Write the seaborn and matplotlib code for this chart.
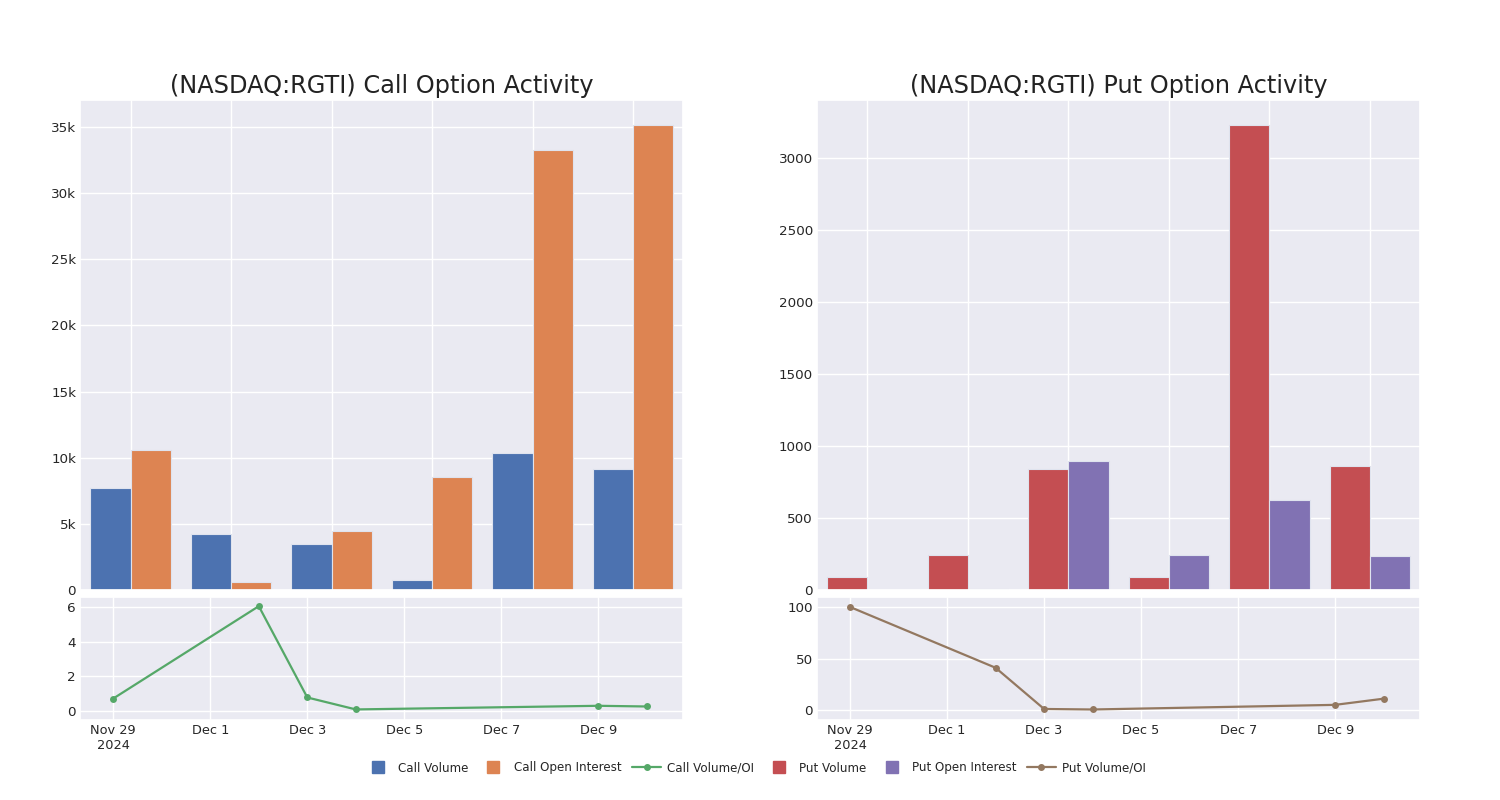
import pandas as pd
import matplotlib.pyplot as plt
import matplotlib.ticker as mticker
from matplotlib.lines import Line2D
import seaborn as sns

# Data
dates = ["2024-11-29", "2024-12-02", "2024-12-03", "2024-12-04", "2024-12-09", "2024-12-10"]
call_volume = [7710, 4230, 3480, 760, 10360, 9150]
call_oi = [10580, 600, 4460, 8540, 33260, 35150]
call_ratio = [0.72, 6.05, 0.78, 0.09, 0.30, 0.26]
put_volume = [90, 243, 840, 90, 3229, 861]
put_oi = [0, 6, 896, 243, 625, 236]
put_ratio = [100, 41, 1, 0.5, 5, 11]

tick_dates = ["2024-11-29", "2024-12-01", "2024-12-03", "2024-12-05", "2024-12-07", "2024-12-09"]
tick_labels = ["Nov 29\n2024", "Dec 1", "Dec 3", "Dec 5", "Dec 7", "Dec 9"]

sns.set_theme(style="darkgrid")
pal = sns.color_palette("deep")
plt.rcParams["font.family"] = ["DejaVu Sans"]

dt = pd.to_datetime(dates)
labels = [d.strftime("%b %d") for d in dt]

fig = plt.figure(figsize=(15, 8), dpi=100)


def k_fmt(v, pos):
    return "0" if v == 0 else f"{v / 1000:g}k"


def draw_panel(left, title, vol, oi, ratio, names, colors, line_color, ytop, ylim_line, yticks_line, kfmt):
    ax_bar = fig.add_axes([left, 0.2625, 0.402, 0.6125])
    ax_line = fig.add_axes([left, 0.1, 0.402, 0.15375])

    df = pd.DataFrame({
        "date": labels * 2,
        "value": vol + oi,
        "kind": [names[0]] * len(vol) + [names[1]] * len(oi),
    })
    sns.barplot(data=df, x="date", y="value", hue="kind", palette=colors, ax=ax_bar,
                width=0.8, saturation=1, edgecolor="#dfe3ee", linewidth=0.8, legend=False)
    ax_bar.set_ylim(0, ytop)
    ax_bar.set_xlabel("")
    ax_bar.set_ylabel("")
    ax_bar.set_xticklabels([])
    ax_bar.xaxis.grid(True)
    ax_bar.tick_params(axis="x", length=0)
    ax_bar.tick_params(axis="y", labelsize=9.7, length=0, pad=3)
    if kfmt:
        ax_bar.yaxis.set_major_locator(mticker.MultipleLocator(5000))
        ax_bar.yaxis.set_major_formatter(mticker.FuncFormatter(k_fmt))
    else:
        ax_bar.yaxis.set_major_locator(mticker.MultipleLocator(500))
    ax_bar.set_title(title, fontsize=17.3, color="#222222", pad=5)

    sns.lineplot(x=dt, y=ratio, ax=ax_line, color=line_color, marker="o",
                 markersize=5, markeredgewidth=0, linewidth=1.6)
    ax_line.set_xlim(pd.Timestamp("2024-11-28 07:40"), pd.Timestamp("2024-12-10 18:00"))
    ax_line.set_ylim(*ylim_line)
    ax_line.set_yticks(yticks_line)
    ax_line.set_xticks(pd.to_datetime(tick_dates))
    ax_line.set_xticklabels(tick_labels)
    ax_line.tick_params(axis="y", labelsize=9.7, length=0, pad=3)
    ax_line.tick_params(axis="x", labelsize=9.3, length=0, pad=3)
    ax_line.set_xlabel("")
    ax_line.set_ylabel("")


draw_panel(0.0535, "(NASDAQ:RGTI) Call Option Activity", call_volume, call_oi, call_ratio,
           ["Call Volume", "Call Open Interest"], [pal[0], pal[1]], pal[2],
           37040, (-0.52, 6.58), [0, 2, 4, 6], True)
draw_panel(0.5447, "(NASDAQ:RGTI) Put Option Activity", put_volume, put_oi, put_ratio,
           ["Put Volume", "Put Open Interest"], [pal[3], pal[4]], pal[5],
           3403, (-9.7, 109.7), [0, 50, 100], False)

handles = [
    Line2D([], [], marker="s", linestyle="none", color=pal[0], markersize=8, label="Call Volume"),
    Line2D([], [], marker="s", linestyle="none", color=pal[1], markersize=8, label="Call Open Interest"),
    Line2D([], [], marker="o", color=pal[2], markersize=4, linewidth=1.6, label="Call Volume/OI"),
    Line2D([], [], marker="s", linestyle="none", color=pal[3], markersize=8, label="Put Volume"),
    Line2D([], [], marker="s", linestyle="none", color=pal[4], markersize=8, label="Put Open Interest"),
    Line2D([], [], marker="o", color=pal[5], markersize=4, linewidth=1.6, label="Put Volume/OI"),
]
fig.legend(handles=handles, loc="center", bbox_to_anchor=(0.503, 0.04), ncol=6,
           frameon=False, fontsize=8.6, handlelength=2.4, handletextpad=0.5, columnspacing=0.9)

fig.savefig("out.png", dpi=100, facecolor="white")
